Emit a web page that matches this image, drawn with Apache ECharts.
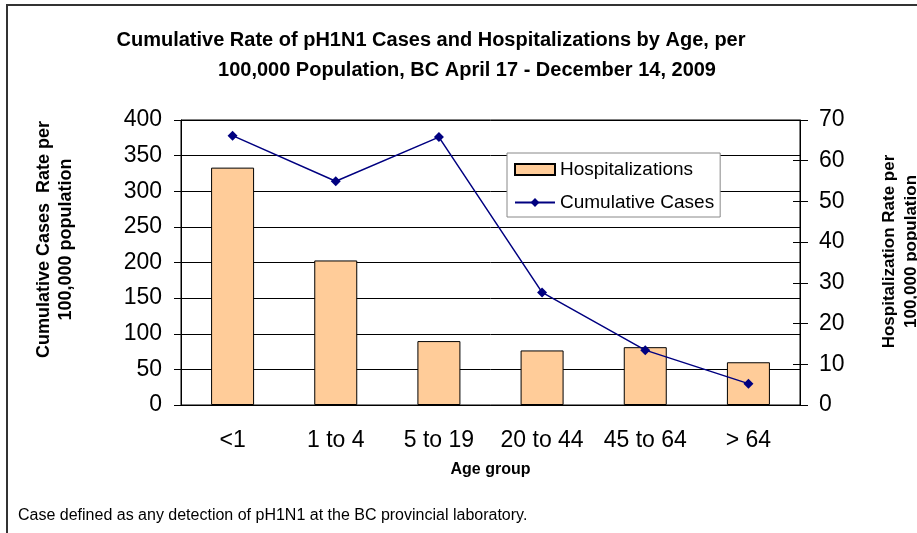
<!DOCTYPE html>
<html>
<head>
<meta charset="utf-8">
<script src="https://cdn.jsdelivr.net/npm/echarts@6/dist/echarts.min.js"></script>
<style>
  html, body { margin: 0; padding: 0; background: #fff; }
  #chart { width: 917px; height: 533px; }
</style>
</head>
<body>
<div id="chart"></div>
<script>
  var ageGroups = ['<1', '1 to 4', '5 to 19', '20 to 44', '45 to 64', '> 64']
  // hospitalization rate per 100,000 (right axis)
  var hospitalizations = [58.3, 35.5, 15.7, 13.4, 14.2, 10.5]
  // cumulative case rate per 100,000 (left axis)
  var cumulativeCases = [378, 314, 376, 158, 77, 30]

  var font = 'Liberation Sans, Arial, sans-serif'
  var myChart = echarts.init(document.getElementById('chart'))
  var option = {
    backgroundColor: '#fff',
    animation: false,
    title: [
      {
        text: 'Cumulative Rate of pH1N1 Cases and Hospitalizations by Age, per',
        left: 431,
        top: 30,
        textAlign: 'center',
        padding: 0,
        textStyle: { fontFamily: font, fontSize: 20, fontWeight: 'bold', color: '#000' }
      },
      {
        text: '100,000 Population, BC April 17 - December 14, 2009',
        left: 467,
        top: 60,
        textAlign: 'center',
        padding: 0,
        textStyle: { fontFamily: font, fontSize: 20, fontWeight: 'bold', color: '#000' }
      }
    ],
    legend: {
      orient: 'vertical',
      left: 507,
      top: 153,
      padding: [7, 6, 5, 7],
      itemGap: 14,
      itemWidth: 40,
      itemHeight: 11,
      backgroundColor: '#fff',
      borderColor: '#888',
      borderWidth: 1,
      textStyle: { fontFamily: font, fontSize: 19, color: '#000' },
      data: [
        { name: 'Hospitalizations', icon: 'rect' },
        { name: 'Cumulative Cases' }
      ]
    },
    grid: {
      left: 181, right: 117, top: 120, bottom: 128,
      outerBoundsMode: 'none', containLabel: false,
      show: true, borderColor: '#000', borderWidth: 1, backgroundColor: 'transparent'
    },
    xAxis: {
      type: 'category',
      data: ageGroups,
      name: 'Age group',
      nameLocation: 'middle',
      nameGap: 57,
      nameTextStyle: { fontFamily: font, fontSize: 16, fontWeight: 'bold', color: '#000' },
      axisLine: { lineStyle: { color: '#000' } },
      axisTick: { length: 7, lineStyle: { color: '#000' } },
      axisLabel: { interval: 0, fontFamily: font, fontSize: 23, color: '#000', margin: 24 }
    },
    yAxis: [
      {
        type: 'value',
        min: 0,
        max: 400,
        interval: 50,
        name: 'Cumulative Cases  Rate per\n100,000 population',
        nameLocation: 'middle',
        nameRotate: 90,
        nameGap: 104,
        nameTextStyle: { fontFamily: font, fontSize: 18, fontWeight: 'bold', color: '#000', lineHeight: 22, padding: [0, 0, 0, 46] },
        axisLine: { show: true, lineStyle: { color: '#000' } },
        axisTick: { show: true, length: 7, lineStyle: { color: '#000' } },
        axisLabel: { fontFamily: font, fontSize: 23, color: '#000', margin: 19 },
        splitLine: { lineStyle: { color: '#000', width: 1 } }
      },
      {
        type: 'value',
        min: 0,
        max: 70,
        interval: 10,
        position: 'right',
        name: 'Hospitalization Rate per\n100,000 population',
        nameLocation: 'middle',
        nameRotate: 90,
        nameGap: 78,
        nameTextStyle: { fontFamily: font, fontSize: 17, fontWeight: 'bold', color: '#000', lineHeight: 22, padding: [0, 0, 0, 22] },
        axisLine: { show: true, onZero: false, lineStyle: { color: '#000' } },
        axisTick: { show: true, length: 8, lineStyle: { color: '#000' } },
        axisLabel: { fontFamily: font, fontSize: 23, color: '#000', margin: 19 },
        splitLine: { show: false }
      },
      {
        // inner half of the crossing ticks on the right axis
        type: 'value',
        min: 0,
        max: 70,
        interval: 10,
        position: 'right',
        axisLine: { show: false },
        axisTick: { show: true, inside: true, length: 7, lineStyle: { color: '#000' } },
        axisLabel: { show: false },
        splitLine: { show: false }
      }
    ],
    graphic: [
      { type: 'line', shape: { x1: 7, y1: 5, x2: 7, y2: 533 }, style: { stroke: '#333', lineWidth: 2 } },
      { type: 'line', shape: { x1: 6, y1: 5, x2: 917, y2: 5 }, style: { stroke: '#333', lineWidth: 2 } },
      {
        type: 'text', left: 18, top: 508,
        style: { text: 'Case defined as any detection of pH1N1 at the BC provincial laboratory.', font: '16px Liberation Sans, Arial, sans-serif', fill: '#000' }
      }
    ],
    series: [
      {
        name: 'Hospitalizations',
        type: 'bar',
        yAxisIndex: 1,
        barWidth: 43,
        itemStyle: { color: '#FFCC99', borderColor: '#000', borderWidth: 1 },
        data: hospitalizations
      },
      {
        name: 'Cumulative Cases',
        type: 'line',
        yAxisIndex: 0,
        symbol: 'diamond',
        symbolSize: 10,
        itemStyle: { color: '#000080' },
        lineStyle: { color: '#000080', width: 1.5 },
        data: cumulativeCases
      }
    ]
  }
  myChart.setOption(option)
</script>
</body>
</html>
